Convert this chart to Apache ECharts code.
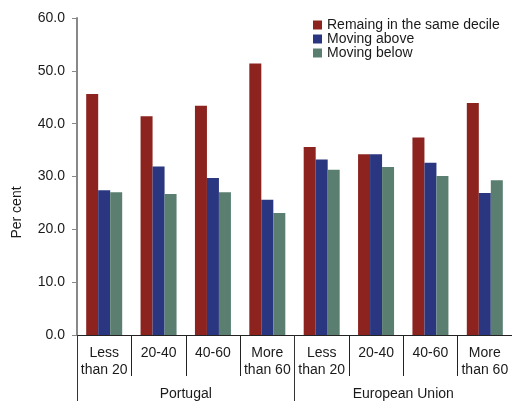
<!DOCTYPE html>
<html>
<head>
<meta charset="utf-8">
<script src="https://cdn.jsdelivr.net/npm/echarts@6/dist/echarts.min.js"></script>
<style>
  html, body { margin: 0; padding: 0; background: #fff; }
  #chart { width: 512px; height: 401px; }
</style>
</head>
<body>
<div id="chart"></div>
<script>
// Income bands (top-level axis) and regions (lower grouping axis)
var bands = ['Less\nthan 20', '20-40', '40-60', 'More\nthan 60',
             'Less\nthan 20', '20-40', '40-60', 'More\nthan 60'];
var regions = ['Portugal', 'European Union'];

// Share of people (per cent) by mobility outcome
var sameDecile  = [45.6, 41.4, 43.4, 51.4, 35.6, 34.2, 37.4, 43.9];
var movingAbove = [27.4, 31.9, 29.7, 25.6, 33.2, 34.2, 32.6, 26.9];
var movingBelow = [27.0, 26.7, 27.0, 23.1, 31.3, 31.8, 30.1, 29.3];

var yTicks = { min: 0, max: 60, step: 10 };

var FONT = '"Liberation Sans", Arial, sans-serif';
var chart = echarts.init(document.getElementById('chart'), null, { renderer: 'canvas' });

chart.setOption({
  animation: false,
  backgroundColor: '#ffffff',
  textStyle: { fontFamily: FONT },
  legend: {
    orient: 'vertical',
    left: 313,
    top: 18,
    padding: 0,
    itemWidth: 9,
    itemHeight: 9,
    itemGap: 0,
    icon: 'rect',
    textStyle: { fontFamily: FONT, fontSize: 14, color: '#1a1a1a', lineHeight: 14 },
    data: ['Remaing in the same decile', 'Moving above', 'Moving below']
  },
  grid: { left: 77, top: 18, right: -2, bottom: 66, containLabel: false },
  xAxis: [
    {
      type: 'category',
      data: bands,
      position: 'bottom',
      axisLine: { show: true, lineStyle: { color: '#222', width: 1 } },
      axisTick: { show: true, interval: 0, length: 41, lineStyle: { color: '#222', width: 1 } },
      axisLabel: {
        interval: 0, margin: 10, fontFamily: FONT, fontSize: 14,
        color: '#1a1a1a', lineHeight: 17
      }
    },
    {
      type: 'category',
      data: regions,
      position: 'bottom',
      axisLine: { show: false },
      axisTick: { show: true, interval: 0, length: 66, lineStyle: { color: '#333', width: 1 } },
      axisLabel: { interval: 0, margin: 52, fontFamily: FONT, fontSize: 14, color: '#1a1a1a' }
    }
  ],
  yAxis: {
    type: 'value',
    min: yTicks.min,
    max: yTicks.max,
    interval: yTicks.step,
    name: 'Per cent',
    nameLocation: 'middle',
    nameGap: 53,
    nameTextStyle: { fontFamily: FONT, fontSize: 14, color: '#1a1a1a', padding: [0, 72, 0, 0] },
    axisLine: { show: true, lineStyle: { color: '#888', width: 2 } },
    axisTick: { show: true, length: 5, lineStyle: { color: '#888', width: 1 } },
    splitLine: { show: false },
    axisLabel: {
      margin: 12, fontFamily: FONT, fontSize: 14, color: '#1a1a1a',
      formatter: function (v) { return v.toFixed(1); }
    }
  },
  series: [
    {
      name: 'Remaing in the same decile', type: 'bar', data: sameDecile,
      barWidth: 12, barGap: '0%', barCategoryGap: '34%',
      itemStyle: { color: '#8c231e' }
    },
    {
      name: 'Moving above', type: 'bar', data: movingAbove,
      barWidth: 12, barGap: '0%',
      itemStyle: { color: '#2a367f' }
    },
    {
      name: 'Moving below', type: 'bar', data: movingBelow,
      barWidth: 12, barGap: '0%',
      itemStyle: { color: '#5a7f70' }
    }
  ]
});
</script>
</body>
</html>
